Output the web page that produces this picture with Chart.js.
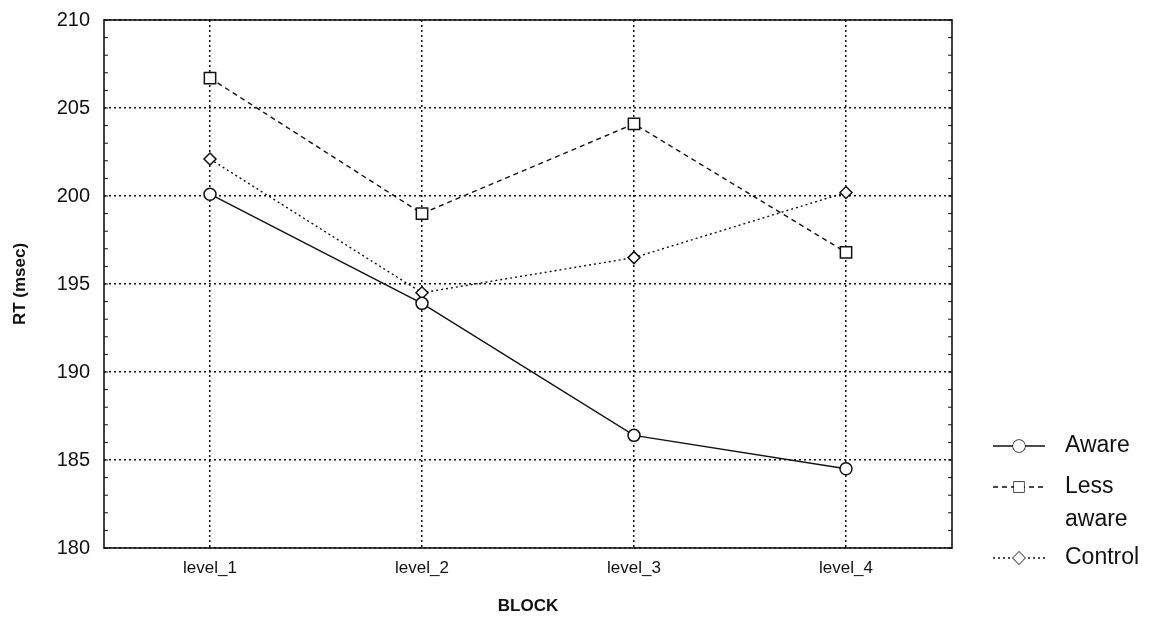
<!DOCTYPE html>
<html>
<head>
<meta charset="utf-8">
<script src="https://cdn.jsdelivr.net/npm/chart.js@4"></script>
<style>
  html, body { margin: 0; padding: 0; background: #fff; }
  #wrap { width: 1165px; height: 623px; }
</style>
</head>
<body>
<div id="wrap"><canvas id="rtChart"></canvas></div>
<script>
// data
const blocks = ["level_1", "level_2", "level_3", "level_4"];
const aware = [200.1, 193.9, 186.4, 184.5];
const lessAware = [206.7, 199.0, 204.1, 196.8];
const control = [202.1, 194.5, 196.5, 200.2];
const seriesNames = ["Aware", ["Less", "aware"], "Control"];
const yTicks = [180, 185, 190, 195, 200, 205, 210];

const FONT = "'Liberation Sans', Arial, sans-serif";

// frame + minor ticks + custom legend
const framePlugin = {
  id: "frame",
  afterDraw(chart) {
    const { ctx, chartArea: a, scales } = chart;
    const y = scales.y;
    ctx.save();
    ctx.strokeStyle = "#111";
    ctx.lineWidth = 1.6;
    ctx.setLineDash([]);
    ctx.strokeRect(a.left, a.top, a.right - a.left, a.bottom - a.top);

    // minor ticks every 1 msec on left and right
    ctx.lineWidth = 1;
    for (let v = yTicks[0]; v <= yTicks[yTicks.length - 1]; v++) {
      const py = y.getPixelForValue(v);
      ctx.beginPath();
      ctx.moveTo(a.left, py);
      ctx.lineTo(a.left + 4, py);
      ctx.moveTo(a.right, py);
      ctx.lineTo(a.right - 4, py);
      ctx.stroke();
    }

    // legend
    const rows = [446, 487, 558];
    chart.data.datasets.forEach((ds, i) => {
      const cy = rows[i];
      ctx.strokeStyle = "#111";
      ctx.lineWidth = 1.4;
      ctx.setLineDash(ds.borderDash || []);
      ctx.beginPath();
      ctx.moveTo(993, cy);
      ctx.lineTo(1045, cy);
      ctx.stroke();
      ctx.setLineDash([]);
      ctx.fillStyle = "#fff";
      Chart.helpers.drawPoint(ctx, { pointStyle: ds.pointStyle, radius: ds.pointStyle === "rect" ? 7 : 6, borderWidth: 1.4 }, 1019, cy);
      ctx.fill();
      ctx.fillStyle = "#111";
      ctx.font = "23px " + FONT;
      ctx.textBaseline = "middle";
      ctx.textAlign = "left";
      const name = seriesNames[i];
      if (Array.isArray(name)) {
        name.forEach((t, k) => ctx.fillText(t, 1065, cy + k * 33));
      } else {
        ctx.fillText(name, 1065, cy);
      }
    });
    ctx.restore();
  },
};

const mk = (label, data, style, dash) => ({
  label,
  data,
  borderColor: "#111",
  borderWidth: 1.4,
  borderDash: dash,
  pointStyle: style,
  pointRadius: style === "rect" ? 8 : 6,
  pointBorderWidth: 1.5,
  pointBackgroundColor: "#fff",
  pointBorderColor: "#111",
  tension: 0,
});

new Chart(document.getElementById("rtChart"), {
  type: "line",
  data: {
    labels: blocks,
    datasets: [
      mk("Aware", aware, "circle", []),
      mk("Less aware", lessAware, "rect", [5, 4]),
      mk("Control", control, "rectRot", [2, 3]),
    ],
  },
  options: {
    responsive: true,
    maintainAspectRatio: false,
    animation: false,
    layout: { padding: { left: 0, right: 213, top: 20, bottom: 0 } },
    plugins: { legend: { display: false }, tooltip: { enabled: false } },
    scales: {
      x: {
        offset: true,
        grid: {
          offset: false,
          color: "#111",
          lineWidth: 1.5,
          drawTicks: false,
        },
        border: { display: false, dash: [2, 3] },
        ticks: { color: "#111", padding: 10, font: { family: FONT, size: 17 } },
        title: {
          display: true,
          text: "BLOCK",
          color: "#111",
          font: { family: FONT, size: 17, weight: "bold" },
          padding: { top: 0, bottom: 6 },
        },
        afterFit(s) { s.height = 75; },
      },
      y: {
        min: 180,
        max: 210,
        afterBuildTicks(s) { s.ticks = yTicks.map(v => ({ value: v })); },
        grid: { color: "#111", lineWidth: 1.5, drawTicks: false },
        border: { display: false, dash: [2, 3] },
        ticks: { color: "#111", padding: 14, font: { family: FONT, size: 20 } },
        title: {
          display: true,
          text: "RT (msec)",
          color: "#111",
          font: { family: FONT, size: 17, weight: "bold" },
          padding: { top: 10, bottom: 0 },
        },
        afterFit(s) {
          s.width = 104;
          s.paddingTop = 0;
          s.paddingBottom = 0;
        },
      },
    },
  },
  plugins: [framePlugin],
});
</script>
</body>
</html>
